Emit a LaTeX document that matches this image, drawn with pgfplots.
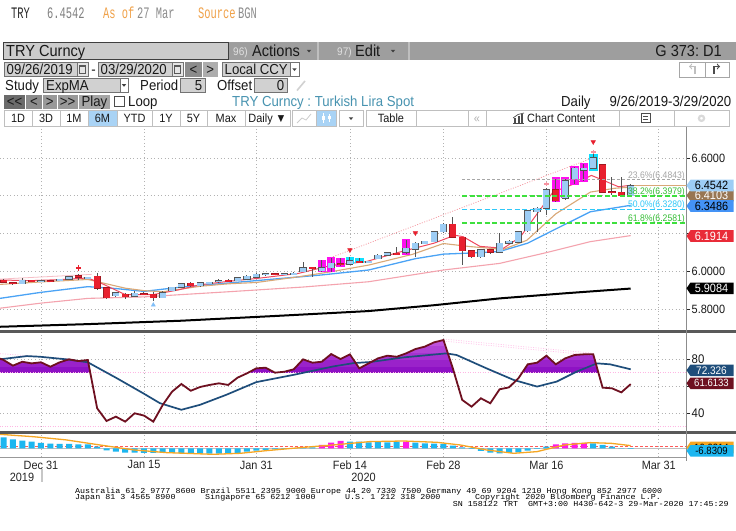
\documentclass[border=0pt]{standalone}
\usepackage{fontspec}
\setmainfont{Liberation Sans}
\newfontfamily\bbf[FakeStretch=0.91]{Liberation Sans}
\newfontfamily\hdrf[FakeStretch=0.65]{Liberation Mono}
\newfontfamily\ftm[FakeStretch=1.1]{Liberation Mono}
\usepackage{pgfplots}
\pgfplotsset{compat=1.18}
\usepackage{pgfplotstable}
\frenchspacing

\definecolor{upfill}{HTML}{9DCDF5}
\definecolor{dnfill}{HTML}{E8202E}
\definecolor{cedge}{HTML}{555555}
\definecolor{emared}{HTML}{F04A60}
\definecolor{ematan}{HTML}{D9A877}
\definecolor{emablue}{HTML}{4BA3F5}
\definecolor{emapink}{HTML}{F4A3AE}
\definecolor{hlmag}{HTML}{FF10F0}
\definecolor{hlcyan}{HTML}{10E0FF}
\definecolor{fibgreen}{HTML}{3EE03E}
\definecolor{fibcyan}{HTML}{30C8F8}
\definecolor{rsired}{HTML}{6E1020}
\definecolor{rsiblue}{HTML}{1E4D7A}
\definecolor{rsifA}{HTML}{8E12C4}
\definecolor{rsifB}{HTML}{9A22CA}
\definecolor{rsifC}{HTML}{A632D0}
\definecolor{rsifD}{HTML}{B242D6}
\definecolor{rsifE}{HTML}{BE52DC}
\definecolor{macdcyan}{HTML}{1CB6F0}
\definecolor{macdmag}{HTML}{FF18E8}
\definecolor{macdorg}{HTML}{F5A623}
\definecolor{hdrorange}{HTML}{F0A24A}
\definecolor{bbteal}{HTML}{4793B0}
\definecolor{selblue}{HTML}{A9D3F5}
\definecolor{dnedge}{HTML}{A01820}

% ---------------- data ----------------
\pgfplotstableread{
k o h l c
-2 5.935 5.965 5.932 5.955
0 5.949 5.953 5.946 5.952
2 5.952 5.962 5.950 5.960
3 5.960 5.975 5.958 5.972
5 5.966 5.972 5.962 5.969
8 5.872 5.890 5.865 5.887
10 5.869 5.895 5.865 5.885
13 5.862 5.895 5.858 5.888
14 5.898 5.920 5.895 5.917
15 5.917 5.940 5.915 5.936
17 5.925 5.945 5.920 5.941
18 5.940 5.946 5.936 5.943
19 5.946 5.960 5.940 5.950
21 5.952 5.970 5.948 5.967
22 5.960 5.980 5.956 5.976
23 5.969 5.990 5.966 5.985
24 5.983 5.988 5.980 5.987
26 5.984 5.990 5.980 5.988
27 5.987 5.995 5.985 5.992
28 5.998 6.050 5.995 6.020
30 6.005 6.060 6.000 6.020
31 6.020 6.070 6.000 6.044
33 6.038 6.075 6.035 6.057
35 6.046 6.056 6.045 6.053
36 6.067 6.090 6.064 6.087
37 6.087 6.105 6.085 6.100
39 6.101 6.165 6.090 6.122
40 6.119 6.155 6.078 6.149
41 6.147 6.163 6.144 6.161
42 6.158 6.212 6.155 6.210
43 6.210 6.255 6.205 6.250
47 6.078 6.118 6.072 6.114
49 6.102 6.205 6.098 6.149
50 6.149 6.165 6.145 6.161
51 6.155 6.215 6.150 6.210
52 6.215 6.325 6.210 6.320
53 6.316 6.340 6.210 6.334
54 6.334 6.440 6.300 6.431
56 6.387 6.490 6.380 6.480
57 6.490 6.550 6.460 6.545
58 6.535 6.570 6.480 6.545
59 6.545 6.635 6.540 6.600
63 6.401 6.465 6.398 6.454
}\upc

\pgfplotstableread{
k o h l c
-4 5.955 5.960 5.940 5.942
-3 5.942 5.945 5.930 5.935
-1 5.953 5.955 5.945 5.949
1 5.952 5.954 5.947 5.948
4 5.978 5.985 5.955 5.971
6 5.976 5.990 5.905 5.913
7 5.913 5.915 5.855 5.862
9 5.881 5.885 5.855 5.867
11 5.883 5.890 5.875 5.879
12 5.879 5.890 5.845 5.862
16 5.938 5.942 5.920 5.925
20 5.954 5.958 5.945 5.950
25 5.988 5.990 5.980 5.984
29 6.022 6.025 5.973 6.014
32 6.040 6.070 6.030 6.035
34 6.055 6.070 6.045 6.047
38 6.097 6.130 6.090 6.093
44 6.249 6.290 6.175 6.180
45 6.182 6.185 6.034 6.109
46 6.109 6.112 6.070 6.078
48 6.114 6.117 6.095 6.102
55 6.431 6.490 6.370 6.374
60 6.563 6.566 6.415 6.419
61 6.421 6.500 6.405 6.417
62 6.419 6.500 6.395 6.401
}\dnc

\pgfplotstableread{
k lo hi
30 5.996 6.061
31 5.996 6.075
32 6.025 6.073
39 6.090 6.170
55 6.369 6.501
56 6.387 6.498
57 6.457 6.558
58 6.475 6.572
}\hlm

\pgfplotstableread{
k lo hi
33 6.038 6.078
34 6.043 6.073
59 6.531 6.620
}\hlc

\pgfplotstableread{
k v
-4.4 5.955
-1 5.952
2 5.957
5 5.966
6.7 5.932
9 5.878
12 5.878
14.6 5.902
17 5.930
20 5.948
23 5.963
27.5 5.990
31 6.032
34.7 6.052
38.4 6.104
42 6.150
44.2 6.192
45.1 6.184
46.9 6.133
49.4 6.123
51.2 6.182
53 6.305
54.7 6.420
57.2 6.468
58.8 6.508
59.7 6.490
61.7 6.448
63 6.456
}\emaA

\pgfplotstableread{
k v
-4.4 5.932
0 5.945
5 5.958
7 5.935
9 5.912
11 5.899
13 5.893
17 5.922
20 5.935
23 5.942
27.5 5.972
31 5.999
35 6.034
39.7 6.091
43 6.148
45.8 6.132
49.4 6.117
51.9 6.165
55 6.305
58.7 6.420
61.3 6.440
63 6.446
}\emaB

\pgfplotstableread{
k v
-4.4 5.858
0 5.890
5 5.920
8 5.910
11 5.895
15 5.918
23 5.952
30 5.982
35 6.008
40 6.068
43 6.092
47 6.100
49 6.106
52 6.150
55 6.225
58.7 6.316
63 6.350
}\emaC

\pgfplotstableread{
k v
-4.4 5.806
0 5.833
5 5.858
11 5.866
20 5.893
28 5.918
35 5.946
43 6.008
49 6.043
54 6.100
58.7 6.158
63 6.190
}\emaD

\pgfplotstableread{
k v
-4.4 5.708
5 5.722
15 5.740
25 5.765
35 5.791
42 5.822
49 5.858
56 5.885
63 5.910
}\emaE

\pgfplotstableread{
k v
-4.38 80.5
-4 79.5
-3 75.3
-2 78.2
-1 77.0
0 77.8
1 74.5
2 77.8
3 80.0
4 78.7
5 79.5
6 43.7
7 34.3
8 37.5
9 33.8
10 40.0
11 38.3
12 33.8
13 46.1
14 56.0
15 61.7
16 56.7
17 59.5
18 61.0
19 62.2
20 61.0
21 66.4
22 69.6
23 73.3
24 73.8
25 70.1
26 70.8
27 72.6
28 80.0
29 77.5
30 78.2
31 83.9
32 80.2
33 83.7
34 73.3
35 77.0
36 80.7
37 82.7
38 81.9
39 84.4
40 87.6
41 89.4
42 92.6
43 94.3
44 73.3
45 49.9
46 44.9
47 51.1
48 47.4
49 57.8
50 59.2
51 65.9
52 76.3
53 77.5
54 82.7
55 76.3
56 80.7
57 83.2
58 83.7
59 83.7
60 59.0
61 58.5
62 55.5
63 61.6
}\rsi

\pgfplotstableread{
k v
-4.4 80.0
-1.5 82.4
-0.1 81.9
2.7 80.0
5.0 77.8
8.1 66.0
10.9 54.9
12.7 47.5
15.0 42.6
17.0 46.3
19.8 53.7
23.0 63.1
27.0 68.5
31.2 74.7
33.4 77.2
35.2 78.0
38.7 81.4
43.3 84.4
44.4 83.2
47.6 73.3
50.5 64.7
53.0 59.8
55.1 63.5
57.2 70.8
59.4 77.0
60.8 76.3
63.0 72.6
}\rsisig

\pgfplotstableread{
k v
-4 27.5
-3 22.5
-2 19
-1 16.7
0 13.3
1 11.7
2 10.8
3 10.8
4 10
5 10
6 4.2
7 -5
8 -8.3
9 -10.8
10 -10.8
11 -11.7
12 -11.7
13 -11.7
14 -11.7
15 -12.5
16 -12.5
17 -13.3
18 -13.3
19 -13.3
20 -13.3
21 -12.5
22 -8.3
23 -5.8
24 -4
25 -2.5
26 -1.7
27 -0.8
28 1.7
29 2.5
33 16.7
34 16.7
35 15
36 16.7
37 15
38 16.7
40 14
41 12.5
42 11.7
43 10.8
44 6.7
45 2.5
46 -1.7
47 -6.7
48 -10.8
49 -12.5
50 -11.7
51 -10
52 -5.8
53 -1.7
54 4.2
59 12.5
60 8.3
61 4.2
62 -0.8
63 -1.7
}\macdc

\pgfplotstableread{
k v
30 8.3
31 14
32 18.3
39 16.7
55 10
56 12.5
57 13.3
58 13.3
}\macdm

\pgfplotstableread{
k v
-4.4 35
-0.8 29
2.7 21
6.3 8.3
9.9 -4
13.4 -10.8
18.4 -15
21.3 -12.5
24.1 -5.8
27.7 1.7
31.2 8.3
35.1 16.7
38.7 18.3
42.3 15
44.8 8.3
47.6 -4.2
50.5 -12.5
53 -8.3
55.9 8.3
58.7 14.2
60.9 12.5
63 6.7
}\macdsig

% ---------------- styles ----------------
\pgfplotsset{
  bbaxis/.style={
    scale only axis, width=686pt, anchor=south west,
    xmin=-4.38, xmax=68.91,
    axis line style={draw=none},
    xtick={0,11,23,33,43,54,66}, xticklabels={},
    xmajorgrids, ymajorgrids,
    grid style={black!30, line width=0.7pt, dash pattern=on 1pt off 2.5pt},
    ytick pos=right, yticklabel pos=right,
    tick align=outside, major tick length=4pt,
    xtick style={draw=none},
    ytick style={black!85, line width=0.7pt},
    yticklabel style={font=\bbf\fontsize{12}{12}\selectfont, text=black!90, inner sep=1.5pt},
    clip=true,
  },
  ebar/.style 2 args={forget plot, draw=none, mark=none,
    error bars/.cd, y dir=both, y explicit, error mark=none,
    error bar style={solid, line width=#1, draw=#2}},
}
\tikzset{
  t16/.style={font=\bbf\fontsize{16}{16}\selectfont, inner sep=0pt, text height=11.5pt, text depth=0pt, text=black!90},
  t14/.style={font=\bbf\fontsize{14.5}{14.5}\selectfont, inner sep=0pt, text height=10.2pt, text depth=0pt, text=black!90},
  t12/.style={font=\bbf\fontsize{12}{12}\selectfont, inner sep=0pt, text height=8.6pt, text depth=0pt, text=black!90},
  t10/.style={font=\bbf\fontsize{11}{11}\selectfont, inner sep=0pt, text height=7.9pt, text depth=0pt},
  hdr/.style={font=\hdrf\fontsize{16}{16}\selectfont, inner sep=0pt, text height=11pt, text depth=0pt},
  ft/.style={font=\ftm\fontsize{7.6}{7.6}\selectfont, inner sep=0pt, text height=5pt, text depth=0pt, text=black},
  fib/.style={font=\bbf\fontsize{9.5}{9.5}\selectfont, inner sep=0pt, text height=6.8pt, text depth=0pt, anchor=east},
}
\newcommand{\valbox}[5]{%
  \fill[#2] (686.5,#1) -- (690.5,#1-5.8) -- (733.5,#1-5.8) -- (733.5,#1+5.8) -- (690.5,#1+5.8) -- cycle;
  \node[font=\bbf\fontsize{#5}{#5}\selectfont, text=#3, inner sep=0pt] at (711.5,#1) {#4};%
}
\newcommand{\dtri}[2]{\fill[black!75] (#1-2.2,#2-1.2) -- (#1+2.2,#2-1.2) -- (#1,#2+1.5) -- cycle;}
\newcommand{\rsiband}[3]{%
  \begin{scope}
  \clip (axis cs:-5,#1) rectangle (axis cs:70,#2);
  \addplot[forget plot, draw=none, fill=#3] table[x=k,y=v] {\rsi} \closedcycle;
  \end{scope}}

\begin{document}
\begin{tikzpicture}
\path[use as bounding box] (0pt,0pt) rectangle (736pt,-530pt);
\fill[white] (0pt,0pt) rectangle (736pt,-530pt);

% ================= main price panel =================
\begin{axis}[bbaxis, at={(0pt,-329pt)}, height=201pt,
  ymin=5.6962, ymax=6.7586,
  ytick={5.8,6.0,6.2,6.4,6.6}, yticklabels={5.8000,6.0000,,,6.6000}]
% trend lines
\addplot[forget plot, emapink!90!red, line width=0.7pt, dash pattern=on 1pt off 1.5pt] coordinates {(31.2,6.078) (58.8,6.598)};
\addplot[forget plot, emapink!70, line width=0.8pt] coordinates {(-4.4,5.960) (5.4,5.985)};
% moving averages
\addplot[forget plot, black, line width=2pt] table[x=k,y=v] {\emaE};
\addplot[forget plot, emapink, line width=1.1pt] table[x=k,y=v] {\emaD};
\addplot[forget plot, emablue, line width=1.3pt] table[x=k,y=v] {\emaC};
\addplot[forget plot, ematan, line width=1.1pt] table[x=k,y=v] {\emaB};
\addplot[forget plot, ematan, line width=0.9pt] coordinates {(63,6.457) (68.91,6.457)};
\addplot[forget plot, emared, line width=1pt] table[x=k,y=v] {\emaA};
% highlight boxes
\addplot[ebar={8.6pt}{hlmag}]
  table[x=k, y expr={(\thisrow{lo}+\thisrow{hi})/2}, y error expr={(\thisrow{hi}-\thisrow{lo})/2}] {\hlm};
\addplot[ebar={8.6pt}{hlcyan}]
  table[x=k, y expr={(\thisrow{lo}+\thisrow{hi})/2}, y error expr={(\thisrow{hi}-\thisrow{lo})/2}] {\hlc};
% wicks
\addplot[ebar={1pt}{cedge}]
  table[x=k, y expr={(\thisrow{h}+\thisrow{l})/2}, y error expr={(\thisrow{h}-\thisrow{l})/2}] {\upc};
\addplot[ebar={1pt}{cedge}]
  table[x=k, y expr={(\thisrow{h}+\thisrow{l})/2}, y error expr={(\thisrow{h}-\thisrow{l})/2}] {\dnc};
% bodies: outline then fill
\addplot[ebar={7.2pt}{cedge}]
  table[x=k, y expr={(\thisrow{o}+\thisrow{c})/2}, y error expr={abs(\thisrow{c}-\thisrow{o})/2+0.0028}] {\upc};
\addplot[ebar={6pt}{upfill}]
  table[x=k, y expr={(\thisrow{o}+\thisrow{c})/2}, y error expr={abs(\thisrow{c}-\thisrow{o})/2}] {\upc};
\addplot[ebar={7.2pt}{dnedge}]
  table[x=k, y expr={(\thisrow{o}+\thisrow{c})/2}, y error expr={abs(\thisrow{c}-\thisrow{o})/2+0.0028}] {\dnc};
\addplot[ebar={6pt}{dnfill}]
  table[x=k, y expr={(\thisrow{o}+\thisrow{c})/2}, y error expr={abs(\thisrow{c}-\thisrow{o})/2}] {\dnc};
% fibonacci levels
\addplot[forget plot, black!35, line width=0.8pt, dash pattern=on 3pt off 2pt] coordinates {(45,6.4843) (68.91,6.4843)};
\addplot[forget plot, fibgreen, line width=1.8pt, dash pattern=on 5pt off 2.5pt] coordinates {(45,6.3979) (68.91,6.3979)};
\addplot[forget plot, fibcyan, line width=1.8pt, dash pattern=on 5pt off 2.5pt] coordinates {(45,6.3280) (68.91,6.3280)};
\addplot[forget plot, fibgreen, line width=1.8pt, dash pattern=on 5pt off 2.5pt] coordinates {(45,6.2581) (68.91,6.2581)};
% signal markers
\addplot[forget plot, only marks, mark=triangle*, mark size=2.6pt, mark options={rotate=180, fill=dnfill, draw=dnfill}] coordinates {(33,6.114) (40,6.204) (59,6.685)};
\addplot[forget plot, only marks, mark=+, mark size=2.6pt, mark options={line width=1.4pt, draw=dnfill}] coordinates {(4,6.019)};
\addplot[forget plot, only marks, mark=+, mark size=2.4pt, mark options={line width=1.2pt, draw=emared!60}] coordinates {(54,6.463) (59,6.632)};
\addplot[forget plot, only marks, mark=triangle*, mark size=2.4pt, mark options={fill=emablue!70, draw=emablue!70}] coordinates {(12,5.823)};
\end{axis}

% ================= RSI panel =================
\begin{axis}[bbaxis, at={(0pt,-430pt)}, height=97pt,
  ymin=27.6, ymax=99.5, ytick={40,60,80}, yticklabels={40,,80},
  yticklabel style={font=\bbf\fontsize{12.5}{12.5}\selectfont}]
\rsiband{70}{75}{rsifA}
\rsiband{75}{80}{rsifB}
\rsiband{80}{85}{rsifC}
\rsiband{85}{90}{rsifD}
\rsiband{90}{100}{rsifE}
\addplot[forget plot, pink!70!magenta!60, line width=0.8pt, dash pattern=on 1pt off 1.5pt] coordinates {(-4.38,70) (68.91,70)};
\addplot[forget plot, pink!70!magenta!60, line width=0.8pt, dash pattern=on 1pt off 1.5pt] coordinates {(-4.38,30) (68.91,30)};
\addplot[forget plot, pink!70!magenta!50, line width=0.7pt, dash pattern=on 1pt off 1.5pt] coordinates {(43,95) (59,84.5)};
\addplot[forget plot, pink!70!magenta!50, line width=0.7pt, dash pattern=on 1pt off 1.5pt] coordinates {(43,93.5) (59,83)};
\addplot[forget plot, pink!70!magenta!50, line width=0.7pt, dash pattern=on 1pt off 1.5pt] coordinates {(-4.38,84.2) (3,80.4)};
\addplot[forget plot, rsiblue, line width=1.7pt] table[x=k,y=v] {\rsisig};
\addplot[forget plot, rsired, line width=1.8pt] table[x=k,y=v] {\rsi};
\end{axis}

% ================= MACD panel =================
\begin{axis}[bbaxis, at={(0pt,-457pt)}, height=23pt,
  ymin=-21.75, ymax=35.75, ytick=\empty, ymajorgrids=false,
  xticklabels={Dec 31,Jan 15,Jan 31,Feb 14,Feb 28,Mar 16,Mar 31},
  xtick pos=bottom, xticklabel pos=bottom,
  xticklabel style={font=\bbf\fontsize{12}{12}\selectfont, text=black!85, inner sep=0pt, yshift=0.5pt}]
\addplot[forget plot, black!25, line width=1pt] coordinates {(-4.38,0) (68.91,0)};
\addplot[forget plot, red!65, line width=0.8pt, dash pattern=on 3pt off 2pt] coordinates {(-4.38,6) (68.91,6)};
\addplot[forget plot, ybar, bar width=6pt, bar shift=0pt, fill=macdcyan, draw=none] table[x=k,y=v] {\macdc};
\addplot[forget plot, ybar, bar width=6pt, bar shift=0pt, fill=macdmag, draw=none] table[x=k,y=v] {\macdm};
\addplot[forget plot, macdorg, line width=1.3pt] table[x=k,y=v] {\macdsig};
\end{axis}

% ================= interface (pixel coordinates) =================
\begin{scope}[x=1pt,y=-1pt]
% separators and frame
\fill[black!65] (0,329.5) rectangle (736,332.5);
\fill[black!65] (0,430.5) rectangle (736,433.5);
\draw[black!40, line width=0.8pt] (0,457) -- (686,457);
\draw[black!45, line width=1pt] (686,127) -- (686,461);

% header line
\node[hdr, anchor=west, text=black!85] at (11,12.8) {TRY};
\node[hdr, anchor=west, text=black!50] at (47,12.8) {6.4542};
\node[hdr, anchor=west, text=hdrorange] at (103,12.8) {As of};
\node[hdr, anchor=west, text=black!45] at (137,12.8) {27 Mar};
\node[hdr, anchor=west, text=hdrorange] at (198,12.8) {Source};
\node[hdr, anchor=west, text=black!45] at (238,12.8) {BGN};

% row 1
\fill[black!38] (228,42) rectangle (736,60);
\filldraw[fill=black!20, draw=black!75, line width=0.8pt] (3,42.5) rectangle (228,59.5);
\node[t16, anchor=west] at (6,51) {TRY Curncy};
\node[t10, anchor=west, text=black!12] at (233,51.5) {96)};
\node[t16, anchor=west] at (252,51) {Actions};
\dtri{309}{51}
\draw[black!25, line width=1.2pt] (318,42) -- (318,60);
\node[t10, anchor=west, text=black!12] at (337,51.5) {97)};
\node[t16, anchor=west] at (355,51) {Edit};
\dtri{393}{51}
\draw[black!25, line width=1.2pt] (409,42) -- (409,60);
\node[t16, anchor=east] at (722,51) {G 373: D1};

% row 2
\filldraw[fill=black!18, draw=black!55] (4,62) rectangle (77,76.5);
\node[t14, anchor=west] at (6.5,69.3) {09/26/2019};
\filldraw[fill=black!10, draw=black!55] (77,62) rectangle (88,76.5);
\draw[black!65] (79.5,65.5) rectangle (85.5,73); \fill[black!65] (79.5,65.5) rectangle (85.5,67.2);
\node[t14, anchor=center] at (93.5,69.3) {-};
\filldraw[fill=black!18, draw=black!55] (98,62) rectangle (172,76.5);
\node[t14, anchor=west] at (100.5,69.3) {03/29/2020};
\filldraw[fill=black!10, draw=black!55] (172,62) rectangle (183,76.5);
\draw[black!65] (174.5,65.5) rectangle (180.5,73); \fill[black!65] (174.5,65.5) rectangle (180.5,67.2);
\fill[black!45] (185,62) rectangle (202,76.5);
\node[t14] at (193.5,69.3) {<};
\fill[black!32] (202.5,62) rectangle (218,76.5);
\node[t14] at (210.2,69.3) {>};
\filldraw[fill=black!18, draw=black!55] (222,62) rectangle (290,76.5);
\node[t14, anchor=west] at (224.5,69.3) {Local CCY};
\filldraw[fill=white, draw=black!55] (290,62) rectangle (299,76.5);
\dtri{294.5}{69.5}
\filldraw[fill=white, draw=black!35] (679,62) rectangle (705,77);
\filldraw[fill=white, draw=black!35] (705,62) rectangle (729,77);
\draw[black!25, line width=1.1pt, ->] (695,74) -- (695,66.5) -- (689,66.5);
\draw[black!70, line width=1.1pt, ->] (714,74) -- (714,66.5) -- (720,66.5);

% row 3
\node[t14, anchor=west] at (5,85) {Study};
\filldraw[fill=black!18, draw=black!55] (43,78) rectangle (128,92.5);
\node[t14, anchor=west] at (46,85) {ExpMA};
\filldraw[fill=white, draw=black!55] (120,78) rectangle (128,92.5);
\dtri{124}{85.3}
\node[t14, anchor=west] at (140,85) {Period};
\filldraw[fill=black!18, draw=black!55] (180,78) rectangle (205,92.5);
\node[t14, anchor=east] at (202.5,85) {5};
\node[t14, anchor=west] at (217,85) {Offset};
\filldraw[fill=black!18, draw=black!55] (254,78) rectangle (287,92.5);
\node[t14, anchor=east] at (284.5,85) {0};
\draw[black!18, line width=1.6pt] (297,90.5) -- (305,81);

% row 4
\fill[black!58] (4,95) rectangle (25,108.7);
\fill[black!45] (26,95) rectangle (42,108.7);
\fill[black!40] (43,95) rectangle (56.5,108.7);
\fill[black!40] (57.5,95) rectangle (78,108.7);
\fill[black!35] (79,95) rectangle (110,108.7);
\node[t14] at (14.5,101.8) {<<};
\node[t14] at (34,101.8) {<};
\node[t14] at (49.8,101.8) {>};
\node[t14] at (67.7,101.8) {>>};
\node[t14] at (94.5,101.8) {Play};
\draw[black!70, line width=0.8pt] (114,96.5) rectangle (124,106.5);
\node[t14, anchor=west] at (128,101.8) {Loop};
\node[t14, anchor=west, text=bbteal] at (232,101.8) {TRY Curncy : Turkish Lira Spot};
\node[t14, anchor=west] at (561,101.8) {Daily};
\node[t14, anchor=east] at (731.5,101.8) {9/26/2019-3/29/2020};

% row 5
\foreach \a/\b/\t in {4/32/1D, 32/60/3D, 60/88/1M, 88/117/6M, 117/152/YTD, 152/180/1Y, 180/207/5Y, 207/245/Max, 245/290/Daily ▼, 292/316/, 316/336/, 339/363/, 366/416/Table, 416/468/, 468/486/, 486/619/, 619/674/, 674/729/}{
  \filldraw[fill=white, draw=black!25] (\a,110.5) rectangle (\b,126);
  \node[t12] at ({(\a+\b)/2},118.3) {\t};
}
\filldraw[fill=selblue, draw=black!25] (88,110.5) rectangle (117,126);
\node[t12] at (102.5,118.3) {6M};
\filldraw[fill=selblue, draw=black!25] (316,110.5) rectangle (336,126);
\draw[white, line width=1pt] (323,113) -- (323,123); \fill[white] (321.5,115.5) rectangle (324.5,120);
\draw[white, line width=1pt] (329,114) -- (329,122); \fill[white] (327.5,116) rectangle (330.5,119);
\draw[black!20, line width=0.8pt] (297,123) -- (302,118) -- (306,120) -- (311,114);
\dtri{351}{118.5}
\node[t12, text=black!30] at (477,118.3) {«};
\draw[black!70, line width=0.7pt] (513,123) -- (524,123);
\fill[black!70] (514,118) rectangle (516,123); \fill[black!70] (517.5,116) rectangle (519.5,123); \fill[black!70] (521,114) rectangle (523,123);
\draw[black!70, line width=0.7pt] (513,118) -- (518,114.5) -- (524,113);
\node[t12, anchor=west] at (527,118.3) {Chart Content};
\draw[black!70, line width=0.8pt] (641,113.5) rectangle (650,122.5);
\draw[black!70, line width=0.8pt] (643,116) -- (648,116) (643,119) -- (648,119);
\draw[black!15, line width=2.2pt] (701.5,118.3) circle (2.6pt);

% fibonacci labels
\node[fib, text=black!35] at (685,175) {23.6\%(6.4843)};
\node[fib, text=fibgreen!85!black] at (685,191) {38.2\%(6.3979)};
\node[fib, text=fibcyan] at (685,204.3) {50.0\%(6.3280)};
\node[fib, text=fibgreen!85!black] at (685,217.7) {61.8\%(6.2581)};

% last-value boxes
\valbox{195.5}{ematan!70!black}{white}{6.4103}{12}
\valbox{185.5}{upfill}{black}{6.4542}{12}
\valbox{206}{emablue!90!blue}{black}{6.3486}{12}
\valbox{236}{dnfill!95!white}{white}{6.1914}{12}
\valbox{288.3}{black}{white}{5.9084}{12}
\valbox{370.3}{rsiblue}{white}{72.326}{11}
\valbox{383.3}{rsired}{white}{61.6133}{10.5}
\valbox{447.5}{macdorg}{black}{10.9314}{10.5}
\valbox{450.8}{macdcyan}{black}{-6.8309}{10.5}

% year labels
\draw[black!22, line width=2.5pt] (42,469) -- (42,482);
\node[t12, text=black!85] at (22,477) {2019};
\node[t12, text=black!85] at (363.5,477) {2020};

% footer
\node[ft, anchor=west] at (75,490.7) {Australia 61 2 9777 8600 Brazil 5511 2395 9000 Europe 44 20 7330 7500 Germany 49 69 9204 1210 Hong Kong 852 2977 6000};
\node[ft, anchor=west] at (75,497) {Japan 81 3 4565 8900};
\node[ft, anchor=west] at (205,497) {Singapore 65 6212 1000};
\node[ft, anchor=west] at (345,497) {U.S. 1 212 318 2000};
\node[ft, anchor=west] at (475,497) {Copyright 2020 Bloomberg Finance L.P.};
\node[ft, anchor=east] at (729,503.5) {SN 158122 TRT\ \ GMT+3:00 H430-642-3 29-Mar-2020 17:45:29};
\end{scope}
\end{tikzpicture}
\end{document}
